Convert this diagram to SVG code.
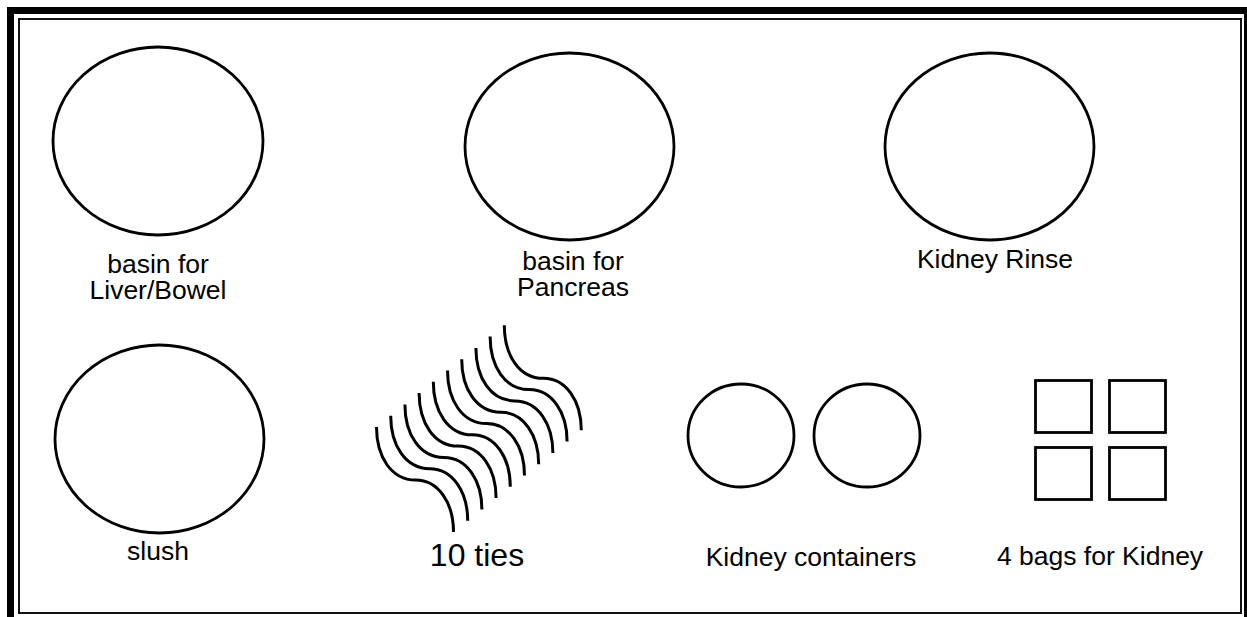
<svg xmlns="http://www.w3.org/2000/svg" width="1247" height="617" viewBox="0 0 1247 617">
<style>
.o{fill:none;stroke:#000;stroke-width:2.8}
.t{font-family:"Liberation Sans",Arial,sans-serif;font-size:26.5px;fill:#000;text-anchor:middle}
.tie{fill:none;stroke:#000;stroke-width:3}
</style>
<defs>
<path id="tie" class="tie" d="M0,0 C0,30 15,53 39,53 C62,53 77,76 77,105"/>
</defs>
<rect width="1247" height="617" fill="#fff"/>
<g id="frame">
<rect x="10.5" y="10.5" width="1237" height="610" fill="none" stroke="#000" stroke-width="7"/>
<rect x="19" y="19" width="1222" height="594" fill="none" stroke="#111" stroke-width="2"/>
</g>
<g id="basin-liver">
<ellipse class="o" cx="158" cy="141" rx="105" ry="94"/>
<text class="t" x="158" y="273">basin for</text>
<text class="t" x="158" y="299">Liver/Bowel</text>
</g>
<g id="basin-pancreas">
<ellipse class="o" cx="569.5" cy="146.5" rx="104.5" ry="93.5"/>
<text class="t" x="573" y="270">basin for</text>
<text class="t" x="573" y="296">Pancreas</text>
</g>
<g id="kidney-rinse">
<ellipse class="o" cx="989.5" cy="146.5" rx="104.5" ry="93.5"/>
<text class="t" x="995" y="268">Kidney Rinse</text>
</g>
<g id="slush">
<ellipse class="o" cx="159.5" cy="439" rx="104.5" ry="94"/>
<text class="t" x="158" y="560">slush</text>
</g>
<g id="ties">
<use href="#tie" x="376.5" y="427"/>
<use href="#tie" x="390.7" y="415.7"/>
<use href="#tie" x="404.9" y="404.4"/>
<use href="#tie" x="419.1" y="393.1"/>
<use href="#tie" x="433.3" y="381.8"/>
<use href="#tie" x="447.5" y="370.5"/>
<use href="#tie" x="461.7" y="359.2"/>
<use href="#tie" x="475.9" y="347.9"/>
<use href="#tie" x="490.1" y="336.6"/>
<use href="#tie" x="504.3" y="325.3"/>
<text class="t" x="477" y="566" style="font-size:32px">10 ties</text>
</g>
<g id="kidney-containers">
<ellipse class="o" cx="741" cy="435.5" rx="53" ry="51.5"/>
<ellipse class="o" cx="867" cy="435.5" rx="53" ry="51.5"/>
<text class="t" x="811" y="566">Kidney containers</text>
</g>
<g id="kidney-bags">
<rect class="o" x="1035.5" y="380.5" width="56" height="52"/>
<rect class="o" x="1109.5" y="380.5" width="56" height="52"/>
<rect class="o" x="1035.5" y="447.5" width="56" height="52"/>
<rect class="o" x="1109.5" y="447.5" width="56" height="52"/>
<text class="t" x="1100" y="565">4 bags for Kidney</text>
</g>
</svg>
